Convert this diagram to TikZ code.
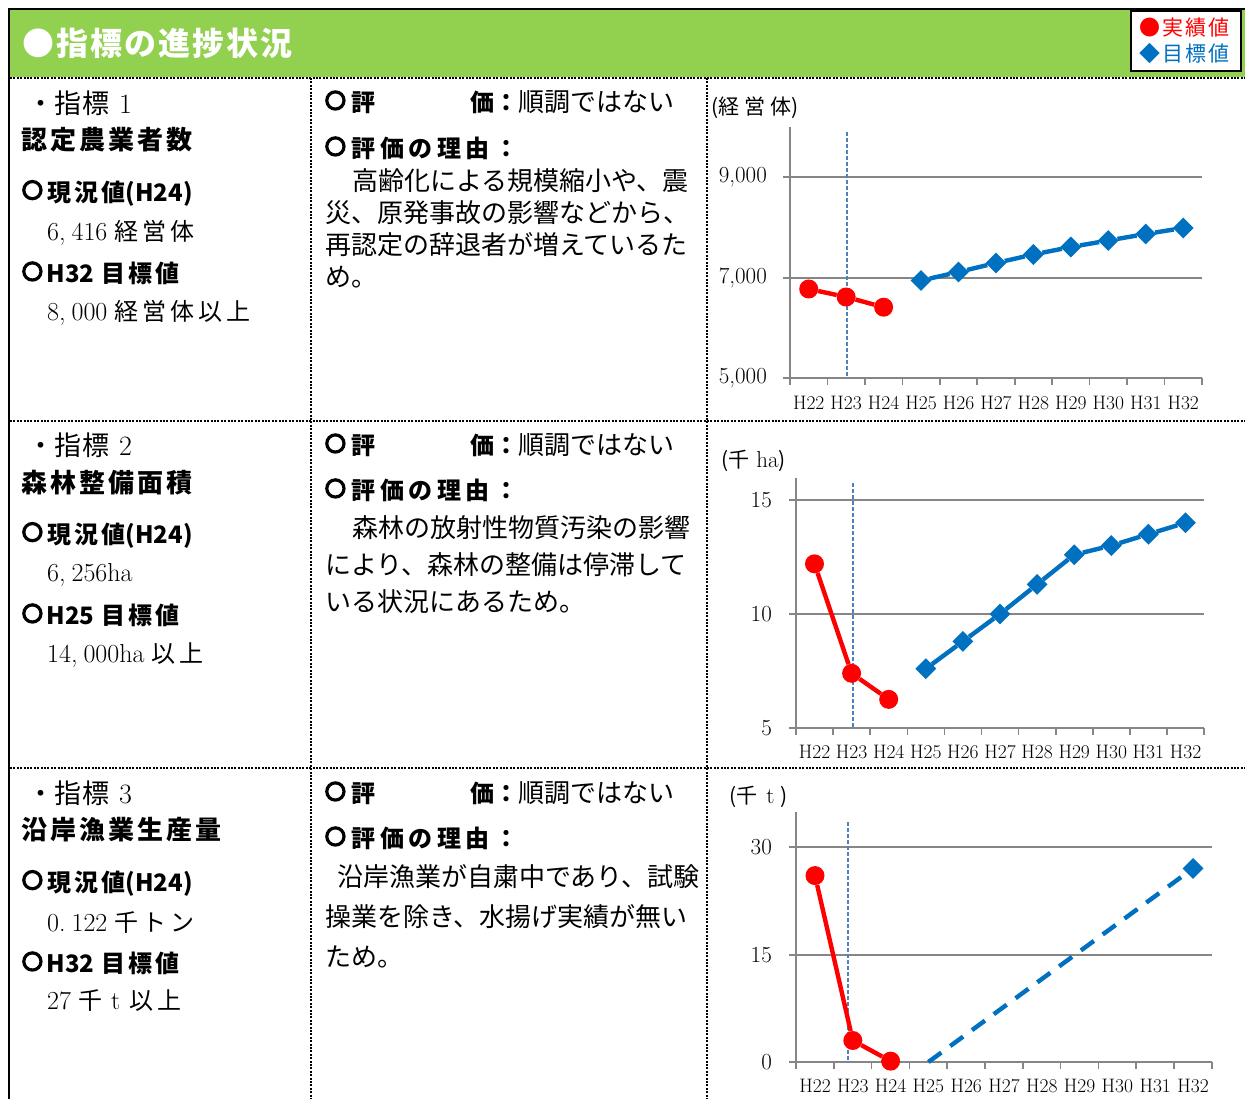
\documentclass[tikz,border=0pt]{standalone}
\usepackage{fontspec}
\newfontfamily\jpfont{Noto Sans CJK JP}
\usetikzlibrary{shapes.geometric}

\definecolor{hdrgreen}{RGB}{146,208,80}
\definecolor{actred}{RGB}{255,0,0}
\definecolor{tgtblue}{RGB}{0,112,192}
\definecolor{gridgray}{RGB}{134,134,134}
\definecolor{nowblue}{RGB}{79,129,189}

\makeatletter
\newcommand{\spread}[2]{\def\spr@gap{\hspace{#1}}\@tfor\spr@c:=#2\do{\spr@c\spr@gap}\unskip}
\makeatother
\newcommand{\ring}{\raisebox{0.8pt}{\tikz\draw[line width=3.2pt] (0,0) circle (8.6pt);}}
\newcommand{\lat}[1]{{\normalfont\fontsize{26}{26}\selectfont #1}}

\tikzset{
 sep/.style={line width=2.6pt, dash pattern=on 2pt off 1.4pt},
 ttl/.style={anchor=west, inner sep=0pt, text=white, font=\jpfont\bfseries\fontsize{32}{32}\selectfont},
 lgtext/.style={anchor=west, inner sep=0pt, font=\jpfont\fontsize{21}{21}\selectfont},
 idx/.style={anchor=west, inner sep=0pt, font=\jpfont\fontsize{27}{27}\selectfont},
 hd/.style={anchor=west, inner sep=0pt, font=\jpfont\bfseries\fontsize{24}{24}\selectfont},
 hdbig/.style={anchor=west, inner sep=0pt, font=\jpfont\bfseries\fontsize{26}{26}\selectfont},
 val/.style={anchor=west, inner sep=0pt, font=\jpfont\fontsize{24}{24}\selectfont},
 body/.style={anchor=west, inner sep=0pt, font=\jpfont\fontsize{26}{26}\selectfont},
 unit/.style={anchor=west, inner sep=0pt, font=\jpfont\fontsize{21}{21}\selectfont},
 ylab/.style={anchor=east, inner sep=0pt, font=\fontsize{23}{23}\selectfont},
 xlab/.style={inner sep=0pt, font=\fontsize{19.5}{19.5}\selectfont},
 gridl/.style={gridgray, line width=1.6pt},
 nowline/.style={nowblue, line width=1.2pt, dash pattern=on 4pt off 2pt},
 redpt/.style={circle, fill=actred, minimum size=19pt, inner sep=0pt},
 bluept/.style={diamond, fill=tgtblue, minimum size=21pt, inner sep=0pt},
 redline/.style={actred, line width=4.4pt},
 blueline/.style={tgtblue, line width=4.4pt}
}

\begin{document}
\begin{tikzpicture}[x=1pt,y=-1pt]
 \useasboundingbox (0,0) rectangle (1245,1099);

 % header
 \fill[hdrgreen] (10,10) rectangle (1245,77);
 \draw[line width=2.4pt] (9,1099) -- (9,9) -- (1245,9);
 \node[ttl] (title) at (22,43) {\spread{2pt}{●指標の進捗状況}};
 \node[draw, line width=1.6pt, fill=white, minimum width=110pt, minimum height=60pt, inner sep=0pt] (legend) at (1186,41) {};
 \node[lgtext, text=actred] (legred) at (1139,28) {●\hspace{2pt}\spread{2pt}{実績値}};
 \node[lgtext, text=tgtblue] (legblue) at (1139,54) {◆\hspace{2pt}\spread{2pt}{目標値}};

 % table rules
 \draw[sep] (10,78) -- (1245,78);
 \draw[sep] (10,421) -- (1245,421);
 \draw[sep] (10,768) -- (1245,768);
 \draw[sep] (311,78) -- (311,1099);
 \draw[sep] (707,78) -- (707,1099);

 % indicator 1
 \node[idx] (k1) at (27,103) {・\spread{1pt}{指標}\hspace{10pt}{\normalfont\fontsize{28}{28}\selectfont 1}};
 \node[hdbig] (n1) at (21,140) {\spread{3pt}{認定農業者数}};
 \node[hd] (c1) at (22,193) {\ring\hspace{5pt}\spread{3pt}{現況値}(H24)};
 \node[val] (cv1) at (47,233) {\lat{6,\hspace{6pt}416}\hspace{7pt}\spread{4pt}{経営体}};
 \node[hd] (g1) at (22,273) {\ring\hspace{4pt}H32\hspace{7pt}\spread{3pt}{目標値}};
 \node[val] (gv1) at (47,313) {\lat{8,\hspace{6pt}000}\hspace{7pt}\spread{4pt}{経営体以上}};
 \node[hd] (e1) at (325,102) {\ring\hspace{6pt}評};
 \node[hd] (e1b) at (470,102) {価：};
 \node[body] (e1c) at (518,102) {順調ではない};
 \node[hd] (r1) at (325,148) {\ring\hspace{6pt}\spread{4.5pt}{評価の理由：}};
 \node[body] (r1a) at (352,181) {高齢化による規模縮小や、震};
 \node[body] (r1b) at (325,213) {災、原発事故の影響などから、};
 \node[body] (r1c) at (325,245) {再認定の辞退者が増えているた};
 \node[body] (r1d) at (325,277) {め。};

 % indicator 2
 \node[idx] (k2) at (27,445) {・\spread{1pt}{指標}\hspace{10pt}{\normalfont\fontsize{28}{28}\selectfont 2}};
 \node[hdbig] (n2) at (21,483) {\spread{3pt}{森林整備面積}};
 \node[hd] (c2) at (22,535) {\ring\hspace{5pt}\spread{3pt}{現況値}(H24)};
 \node[val] (cv2) at (47,575) {\lat{6,\hspace{6pt}256ha}};
 \node[hd] (g2) at (22,615) {\ring\hspace{4pt}H25\hspace{7pt}\spread{3pt}{目標値}};
 \node[val] (gv2) at (47,655) {\lat{14,\hspace{6pt}000ha}\hspace{7pt}\spread{4pt}{以上}};
 \node[hd] (e2) at (325,445) {\ring\hspace{6pt}評};
 \node[hd] (e2b) at (470,445) {価：};
 \node[body] (e2c) at (518,445) {順調ではない};
 \node[hd] (r2) at (325,490) {\ring\hspace{6pt}\spread{4.5pt}{評価の理由：}};
 \node[body] (r2a) at (352,528) {森林の放射性物質汚染の影響};
 \node[body] (r2b) at (325,565) {により、森林の整備は停滞して};
 \node[body] (r2c) at (325,602) {いる状況にあるため。};

 % indicator 3
 \node[idx] (k3) at (27,793) {・\spread{1pt}{指標}\hspace{10pt}{\normalfont\fontsize{28}{28}\selectfont 3}};
 \node[hdbig] (n3) at (21,830) {\spread{3pt}{沿岸漁業生産量}};
 \node[hd] (c3) at (22,883) {\ring\hspace{5pt}\spread{3pt}{現況値}(H24)};
 \node[val] (cv3) at (47,923) {\lat{0.\hspace{6pt}122}\hspace{7pt}\spread{4pt}{千トン}};
 \node[hd] (g3) at (22,963) {\ring\hspace{4pt}H32\hspace{7pt}\spread{3pt}{目標値}};
 \node[val] (gv3) at (47,1001) {\lat{27}\hspace{7pt}千\hspace{9pt}\lat{t}\hspace{9pt}\spread{4pt}{以上}};
 \node[hd] (e3) at (325,793) {\ring\hspace{6pt}評};
 \node[hd] (e3b) at (470,793) {価：};
 \node[body] (e3c) at (518,793) {順調ではない};
 \node[hd] (r3) at (325,838) {\ring\hspace{6pt}\spread{4.5pt}{評価の理由：}};
 \node[body] (r3a) at (337,877) {沿岸漁業が自粛中であり、試験};
 \node[body] (r3b) at (325,917) {操業を除き、水揚げ実績が無い};
 \node[body] (r3c) at (325,957) {ため。};

 % chart 1
 \node[unit] (u1) at (711,108) {(\spread{5pt}{経営体})};
 \draw[gridl] (783,177) -- (1202,177);
 \draw[gridl] (783,278) -- (1202,278);
 \draw[gridl] (783,378) -- (1202,378);
 \draw[gridl] (790,127) -- (790,378);
 \node[ylab] (ya1) at (767,177) {9,000};
 \node[ylab] (ya2) at (767,278) {7,000};
 \node[ylab] (ya3) at (767,378) {5,000};
 \foreach \i in {0,...,11} \draw[gridl] ({790+\i*37.45},378) -- ++(0,7);
 \foreach \yr [count=\i from 0] in {H22,H23,H24,H25,H26,H27,H28,H29,H30,H31,H32}
   \node[xlab] (xa\i) at ({808.7+\i*37.45},403) {\yr};
 \draw[nowline] (847,132) -- (847,378);
 \foreach \v [count=\i from 0] in {6780,6620,6416}
   \node[redpt] (ra\i) at ({808.7+\i*37.45},{378-(\v-5000)/20}) {};
 \foreach \v [count=\i from 3] in {6950,7120,7300,7470,7620,7750,7880,8000}
   \node[bluept] (ba\i) at ({808.7+\i*37.45},{378-(\v-5000)/20}) {};
 \draw[redline] (ra0) -- (ra1) -- (ra2);
 \draw[blueline] (ba3) -- (ba4) -- (ba5) -- (ba6) -- (ba7) -- (ba8) -- (ba9) -- (ba10);

 % chart 2
 \node[unit] (u2) at (721,461) {(千\hspace{7pt}{\normalfont\fontsize{23}{23}\selectfont ha})};
 \draw[gridl] (789,500) -- (1204,500);
 \draw[gridl] (789,614) -- (1204,614);
 \draw[gridl] (789,728) -- (1204,728);
 \draw[gridl] (796,478) -- (796,728);
 \node[ylab] (yb1) at (772,500) {15};
 \node[ylab] (yb2) at (772,614) {10};
 \node[ylab] (yb3) at (772,728) {5};
 \foreach \i in {0,...,11} \draw[gridl] ({796+\i*37.1},728) -- ++(0,7);
 \foreach \yr [count=\i from 0] in {H22,H23,H24,H25,H26,H27,H28,H29,H30,H31,H32}
   \node[xlab] (xb\i) at ({814.5+\i*37.1},752) {\yr};
 \draw[nowline] (853,483) -- (853,728);
 \foreach \v [count=\i from 0] in {12.2,7.4,6.256}
   \node[redpt] (rb\i) at ({814.5+\i*37.1},{728-(\v-5)*22.8}) {};
 \foreach \v [count=\i from 3] in {7.6,8.8,10.0,11.3,12.6,13.0,13.5,14.0}
   \node[bluept] (bb\i) at ({814.5+\i*37.1},{728-(\v-5)*22.8}) {};
 \draw[redline] (rb0) -- (rb1) -- (rb2);
 \draw[blueline] (bb3) -- (bb4) -- (bb5) -- (bb6) -- (bb7) -- (bb8) -- (bb9) -- (bb10);

 % chart 3
 \node[unit] (u3) at (729,797) {(千\hspace{9pt}{\normalfont\fontsize{23}{23}\selectfont t}\hspace{6pt})};
 \draw[gridl] (789,847) -- (1212,847);
 \draw[gridl] (789,955) -- (1212,955);
 \draw[gridl] (789,1062) -- (1212,1062);
 \draw[gridl] (796,812) -- (796,1062);
 \node[ylab] (yc1) at (772,847) {30};
 \node[ylab] (yc2) at (772,955) {15};
 \node[ylab] (yc3) at (772,1062) {0};
 \foreach \i in {0,...,11} \draw[gridl] ({796+\i*37.8},1062) -- ++(0,7);
 \foreach \yr [count=\i from 0] in {H22,H23,H24,H25,H26,H27,H28,H29,H30,H31,H32}
   \node[xlab] (xc\i) at ({815+\i*37.8},1086) {\yr};
 \draw[nowline] (848,822) -- (848,1062);
 \foreach \v [count=\i from 0] in {26,3,0.122}
   \node[redpt] (rc\i) at ({815+\i*37.8},{1062-\v*7.17}) {};
 \coordinate (bc3) at ({815+3*37.8},1062);
 \node[bluept] (bc10) at ({815+10*37.8},{1062-27*7.17}) {};
 \draw[redline] (rc0) -- (rc1) -- (rc2);
 \draw[blueline, dash pattern=on 16pt off 11pt] (bc3) -- (bc10);
\end{tikzpicture}
\end{document}
